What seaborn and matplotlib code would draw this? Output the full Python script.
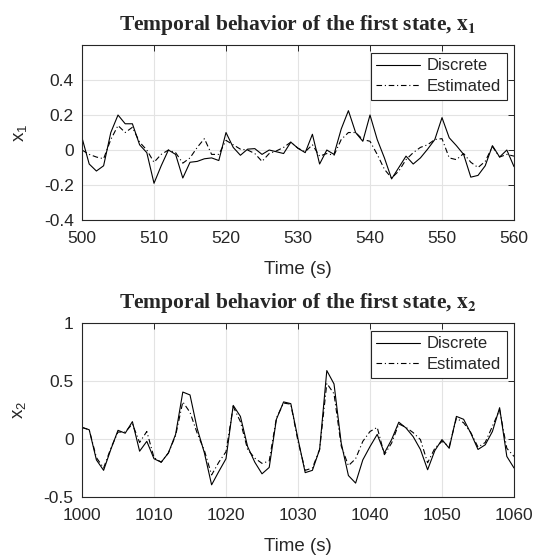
# Libraries
# ===================================================
import numpy as np
import pandas as pd
import seaborn as sns
import matplotlib.pyplot as plt

# Data
# ===================================================
# First state (x1), 500-560 s
time1 = list(range(500, 561))
discrete1 = [0.07, -0.08, -0.12, -0.09, 0.10, 0.20, 0.15, 0.15, 0.03, -0.015,
             -0.19, -0.09, 0.00, -0.025, -0.16, -0.07, -0.065, -0.05, -0.045, -0.06,
             0.10, 0.015, -0.03, 0.005, 0.008, -0.025, 0.0, -0.01, -0.02, 0.045,
             0.01, -0.015, 0.09, -0.08, 0.0, -0.025, 0.12, 0.225, 0.10, 0.05,
             0.20, 0.06, -0.045, -0.165, -0.10, -0.035, -0.08, -0.045, 0.005, 0.06,
             0.185, 0.07, 0.025, -0.025, -0.155, -0.145, -0.09, 0.025, -0.04, 0.0,
             -0.095]
estimated1 = [0.0, -0.025, -0.04, -0.05, 0.06, 0.14, 0.10, 0.13, 0.045, 0.0,
              -0.07, -0.025, 0.0, -0.015, -0.075, -0.045, 0.015, 0.065, -0.025, -0.025,
              0.055, 0.03, 0.005, 0.0, -0.02, -0.065, -0.02, -0.005, 0.015, 0.045,
              0.01, -0.01, 0.03, -0.035, -0.02, -0.03, 0.06, 0.10, 0.10, 0.06,
              0.05, -0.025, -0.11, -0.16, -0.12, -0.055, -0.015, 0.015, 0.03, 0.06,
              0.065, -0.045, -0.055, -0.02, -0.07, -0.10, -0.065, 0.02, -0.04, -0.025,
              -0.035]

# Second state (x2), 1000-1060 s
time2 = list(range(1000, 1061))
discrete2 = [0.10, 0.08, -0.18, -0.27, -0.09, 0.075, 0.05, 0.15, -0.105, -0.02,
             -0.17, -0.20, -0.12, 0.04, 0.405, 0.38, 0.09, -0.12, -0.395, -0.28,
             -0.17, 0.29, 0.195, -0.065, -0.20, -0.30, -0.245, 0.17, 0.32, 0.305,
             0.0, -0.29, -0.27, -0.09, 0.59, 0.475, -0.035, -0.315, -0.38, -0.18,
             -0.065, 0.04, -0.12, -0.005, 0.145, 0.095, 0.02, -0.09, -0.265, -0.10,
             -0.005, -0.08, 0.195, 0.17, 0.05, -0.09, -0.05, 0.065, 0.27, -0.15,
             -0.25]
estimated2 = [0.10, 0.08, -0.16, -0.25, -0.08, 0.06, 0.06, 0.13, -0.03, 0.065,
              -0.16, -0.20, -0.12, 0.03, 0.32, 0.23, 0.05, -0.10, -0.31, -0.20,
              -0.11, 0.28, 0.15, -0.09, -0.165, -0.21, -0.19, 0.18, 0.31, 0.30,
              -0.02, -0.27, -0.25, -0.09, 0.48, 0.39, -0.06, -0.23, -0.17, -0.02,
              0.065, 0.10, -0.135, -0.035, 0.13, 0.10, 0.055, -0.005, -0.205, -0.08,
              -0.02, -0.065, 0.18, 0.14, 0.055, -0.07, -0.03, 0.11, 0.25, -0.08,
              -0.15]

xticks1 = list(range(500, 561, 10))
xticks2 = list(range(1000, 1061, 10))
yticks1 = [-0.4, -0.2, 0, 0.2, 0.4]
yticks2 = [-0.5, 0, 0.5, 1]

# Visualization
# ===================================================
sns.set_style('white')
plt.rcParams.update({'font.family': ['Liberation Sans', 'DejaVu Sans'],
                     'font.size': 12,
                     'mathtext.fontset': 'stix'})

fig = plt.figure(figsize=(5.37, 5.58), dpi=100)
ax1 = fig.add_axes([0.1527, 0.6057, 0.8045, 0.3136])
ax2 = fig.add_axes([0.1527, 0.1093, 0.8045, 0.3118])

dashdot = (0, (5, 2.5, 1, 2.5))
panels = [
    (ax1, time1, discrete1, estimated1, xticks1, yticks1, (-0.4, 0.6), '1'),
    (ax2, time2, discrete2, estimated2, xticks2, yticks2, (-0.5, 1), '2'),
]

for ax, t, d, e, xt, yt, ylim, idx in panels:
    sns.lineplot(x=t, y=d, ax=ax, color='black', linewidth=0.8, label='Discrete')
    sns.lineplot(x=t, y=e, ax=ax, color='black', linewidth=0.8,
                 linestyle=dashdot, label='Estimated')

    ax.set_xlim(xt[0], xt[-1])
    ax.set_ylim(*ylim)
    ax.set_xticks(xt)
    ax.set_yticks(yt)
    ax.set_yticklabels([f'{v:g}' for v in yt])
    ax.grid(True, color='#e3e3e3', linewidth=0.8)
    ax.tick_params(direction='in', length=4, width=0.7, colors='#262626',
                   labelsize=12.5, top=True, right=True)
    ax.tick_params(axis='x', pad=8)
    ax.tick_params(axis='y', pad=6)
    for sp in ax.spines.values():
        sp.set_color('#262626')
        sp.set_linewidth(0.8)

    ax.set_xlabel('Time (s)', fontsize=13.5, color='#262626', labelpad=11)
    ax.set_ylabel(r'$\mathregular{x_' + idx + '}$', fontsize=13.5, color='#262626', labelpad=11)
    ax.set_title(r'Temporal behavior of the first state, $\mathbf{x_' + idx + '}$',
                 fontsize=15.5, fontweight='bold', family='Liberation Serif', pad=11)

    leg = ax.legend(loc='upper right', fontsize=12, frameon=True, fancybox=False,
                    edgecolor='#262626', framealpha=1, borderaxespad=0.45,
                    handlelength=2.6, handletextpad=0.4, borderpad=0.35,
                    labelspacing=0.35)
    leg.get_frame().set_linewidth(0.8)

plt.savefig('out.png', dpi=100)
